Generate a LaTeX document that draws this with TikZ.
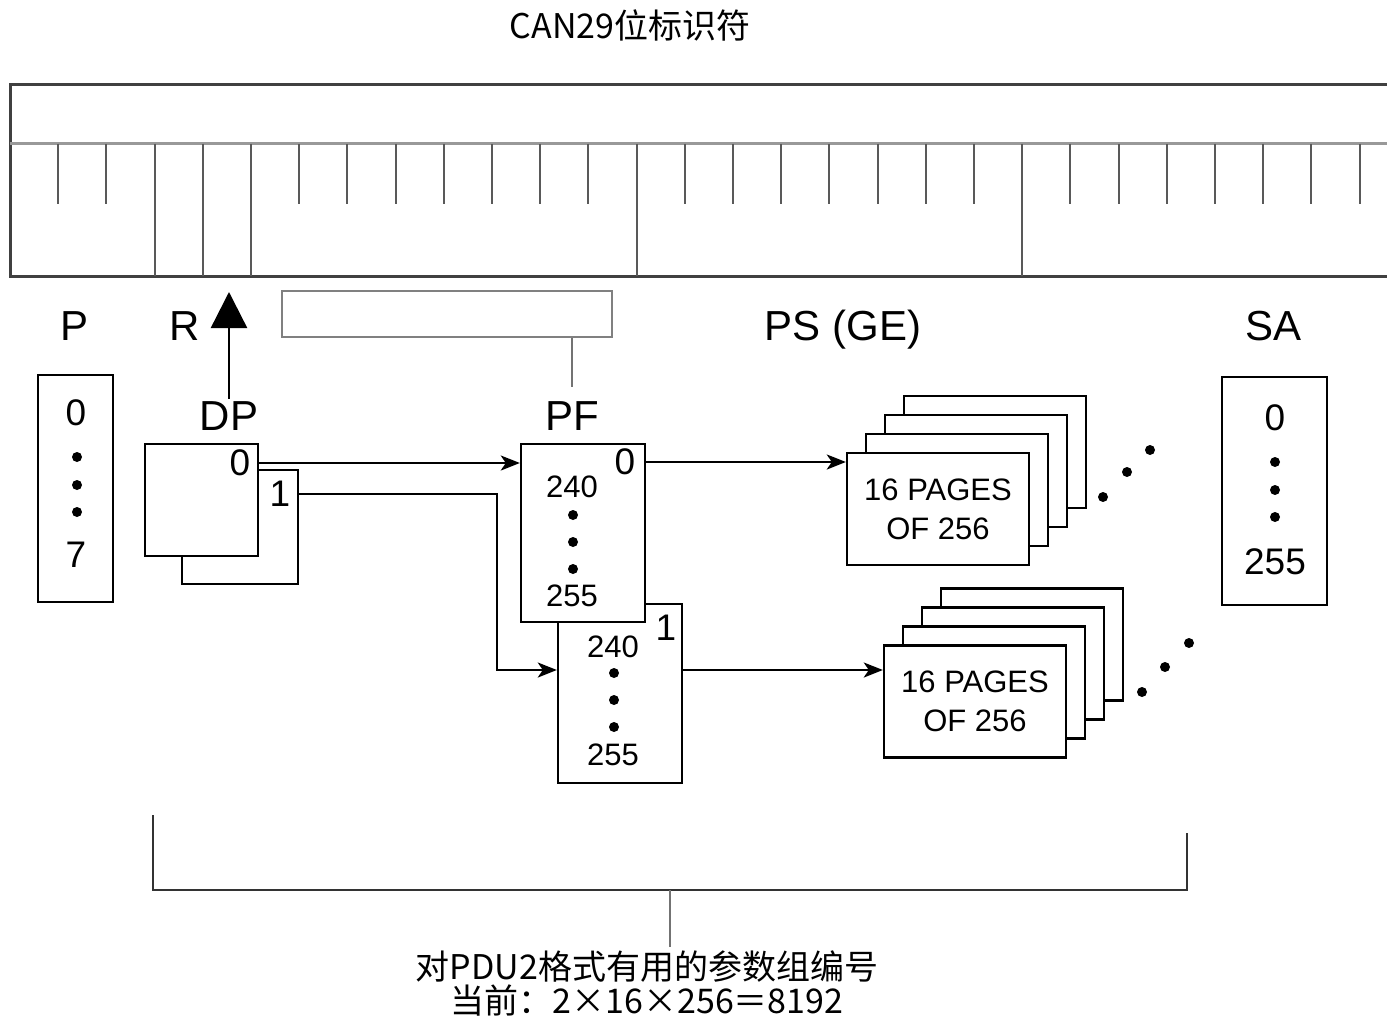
\documentclass[tikz,border=0pt]{standalone}
\usepackage{fontspec}
\setmainfont{Liberation Sans}
\newfontfamily\cjk{Noto Sans CJK SC}
\usetikzlibrary{arrows.meta}
\usetikzlibrary{positioning}

\tikzset{
  box/.style={draw, line width=2.4pt, fill=white, inner sep=0pt},
  head/.style={font=\fontsize{42}{42}\selectfont, anchor=base, inner sep=2pt},
  num/.style={font=\fontsize{37}{37}\selectfont},
  small/.style={font=\fontsize{31}{31}\selectfont},
  blob/.style={circle, fill, inner sep=0pt, minimum size=10pt},
  tick/.style={line width=2pt, black!65},
  link/.style={line width=2.4pt, -{Stealth[length=19pt, width=15pt, inset=5pt]}},
  pagebox/.style={box, minimum width=182pt, minimum height=112pt},
  cjktext/.style={font=\cjk\fontsize{34}{34}\selectfont}
}

\begin{document}
\begin{tikzpicture}[x=1pt, y=-1pt]
\useasboundingbox (0,0) rectangle (1387,1019);

\node[cjktext] (title) at (630,25) {CAN29位标识符};

% Identifier ruler (29 bits, cut at the right)
\draw[line width=3pt, black!75] (1387,85) -- (10,85) -- (10,276) -- (1387,276);
\draw[line width=3pt, black!40] (10,144) -- (1387,144);
\foreach \k in {1,...,28}
{
  \draw[tick] ({10+48.2*\k},144) -- ({10+48.2*\k},204);
}
% Field borders
\foreach \k in {3,4,5,13,21}
{
  \draw[tick] ({10+48.2*\k},144) -- ({10+48.2*\k},276);
}

% Field names
\node[head] (plbl) at (75,340) {P};
\node[head] (rlbl) at (185,340) {R};
\node[head] (pslbl) at (843,340) {PS (GE)};
\node[head] (salbl) at (1273,340) {SA};
\node[head] (dplbl) at (229,430) {DP};
\node[head] (pflbl) at (572,430) {PF};

% R arrow
\coordinate (rtip) at (229,292);
\draw[line width=2.4pt, -{Triangle[length=36pt, width=36pt]}] (dplbl.north) -- (rtip);

% PF bracket
\node[draw=black!50, line width=2.5pt, minimum width=330pt, minimum height=46pt, inner sep=0pt] (pfbar) at (447,314) {};
\draw[black!55, line width=2pt] (pfbar.south -| pflbl.north) -- ([yshift=12pt]pflbl.north);

% P box
\node[box, minimum width=75pt, minimum height=227pt] (pbox) at (75.5,488.5) {};
\node[num] (pfirst) at (76,413) {0};
\node[num] (plast) at (76,555) {7};
\foreach \y [count=\i] in {457,485,512}
  \node[blob] (pdot\i) at (77,\y) {};

% SA box
\node[box, minimum width=105pt, minimum height=228pt] (sabox) at (1274.5,491) {};
\node[num] (safirst) at (1275,418) {0};
\node[num] (salast) at (1275,562) {255};
\foreach \y [count=\i] in {462,490,517}
  \node[blob] (sadot\i) at (1275,\y) {};

% DP pages
\node[box, minimum width=116pt, minimum height=114pt] (dpback) at (240,527) {};
\node[box, minimum width=113pt, minimum height=112pt] (dpfront) at (201.5,500) {};
\node[num] (dpzero) at (240,463) {0};
\node[num] (dpone) at (280,494) {1};

% PF ranges
\node[box, minimum width=124pt, minimum height=179pt] (pfback) at (620,693.5) {};
\node[num] (pfone) at (666,628) {1};
\node[small] (pfbfirst) at (613,647) {240};
\node[small] (pfblast) at (613,755) {255};
\foreach \y [count=\i] in {673,700,727}
  \node[blob] (pfbdot\i) at (614,\y) {};

\node[box, minimum width=124pt, minimum height=178pt] (pffront) at (583,533) {};
\node[num] (pfzero) at (625,462) {0};
\node[small] (pfffirst) at (572,487) {240};
\node[small] (pfflast) at (572,596) {255};
\foreach \y [count=\i] in {515,542,569}
  \node[blob] (pffdot\i) at (573,\y) {};

% Page stacks
\foreach \k in {3,2,1}
{
  \node[pagebox] (stackA\k) at ({938+19*\k},{509-19*\k}) {};
  \node[pagebox] (stackB\k) at ({975+19*\k},{701.5-19*\k}) {};
}
\node[pagebox, small, align=center, font=\fontsize{31}{39}\selectfont] (stackA) at (938,509) {16 PAGES\\OF 256};
\node[pagebox, small, align=center, font=\fontsize{31}{39}\selectfont] (stackB) at (975,701.5) {16 PAGES\\OF 256};
\foreach \x/\y [count=\i] in {1103/497, 1127/472, 1150/450}
  \node[blob] (adot\i) at (\x,\y) {};
\foreach \x/\y [count=\i] in {1142/692, 1165/667, 1189/643}
  \node[blob] (bdot\i) at (\x,\y) {};

% Connectors
\coordinate (bend) at (497,670);
\draw[link] (dpfront.east |- dpzero) -- (pffront.west |- dpzero);
\draw[link] (dpback.east |- dpone) -| (bend) -- (pfback.west |- bend);
\draw[link] (pffront.east |- pfzero) -- (stackA.west |- pfzero);
\draw[link] (pfback.east |- bend) -- (stackB.west |- bend);

% Bottom brace
\coordinate (brkL) at (153,815);
\coordinate (brkR) at (1187,833);
\coordinate (brk) at (670,890);
\draw[line width=2.5pt, black!80] (brkL) |- (brkR |- brk) -- (brkR);
\node[cjktext, align=center] (pgn) at (647,983) {对PDU2格式有用的参数组编号\\当前：2×16×256＝8192};
\draw[black!55, line width=2pt] (brk) -- (brk |- pgn.north);

\end{tikzpicture}
\end{document}
